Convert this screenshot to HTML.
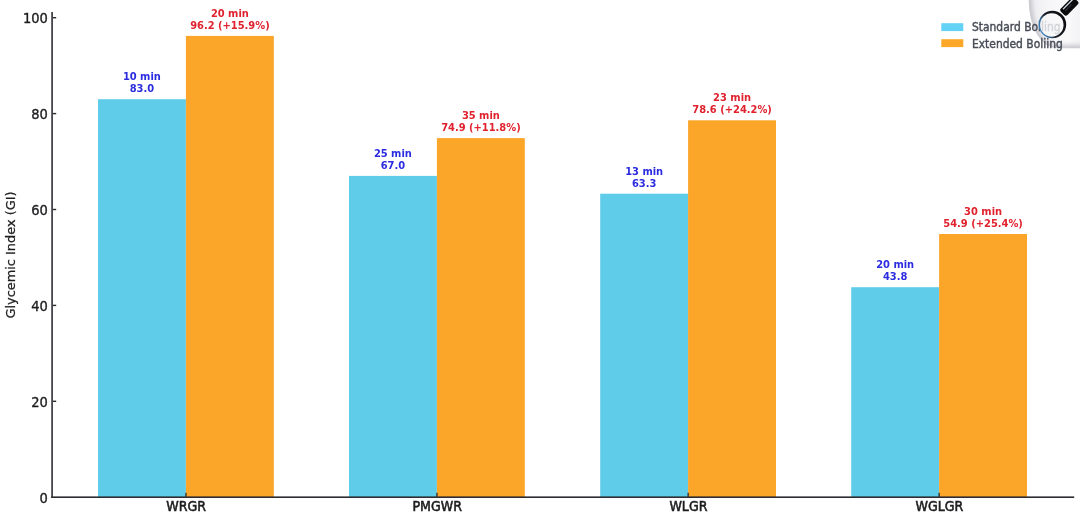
<!DOCTYPE html>
<html lang="en"><head><meta charset="utf-8"><title>Glycemic Index by boiling time</title>
<style>
html,body{margin:0;padding:0;background:#fff;}
body{width:1080px;height:517px;overflow:hidden;}
svg{display:block;will-change:transform;transform:translateZ(0);}
text{font-family:"DejaVu Sans Condensed","DejaVu Sans","Liberation Sans",sans-serif;}
.tick{font-size:14.5px;fill:#1d1d1f;stroke:#1d1d1f;stroke-width:.35px;}
.xl{font-size:14px;fill:#1d1d1f;text-anchor:middle;stroke:#1d1d1f;stroke-width:.55px;}
.vb{font-size:11px;font-weight:bold;fill:#2b2be0;text-anchor:middle;}
.vr{font-size:11px;font-weight:bold;fill:#e0222e;text-anchor:middle;}
.lg{font-size:12px;fill:#474d57;stroke:#474d57;stroke-width:.4px;}
.yl{font-family:"DejaVu Sans","Liberation Sans",sans-serif;font-size:13px;fill:#1d1d1f;text-anchor:middle;stroke:#1d1d1f;stroke-width:.25px;}
</style></head><body>
<svg width="1080" height="517" viewBox="0 0 1080 517">
<defs>
<linearGradient id="boxg" gradientUnits="userSpaceOnUse" x1="1028" y1="0" x2="1080" y2="0"><stop offset="0" stop-color="#ececef"/><stop offset=".4" stop-color="#f6f6f8"/><stop offset=".75" stop-color="#fafafb"/><stop offset="1" stop-color="#f3f3f5"/></linearGradient>
<linearGradient id="ring" x1="0" y1=".75" x2="1" y2=".25"><stop offset="0" stop-color="#4a90cc"/><stop offset=".18" stop-color="#3570a6"/><stop offset=".42" stop-color="#181d25"/><stop offset="1" stop-color="#0b0b0d"/></linearGradient>
</defs>
<rect width="1080" height="517" fill="#ffffff"/>
<g>

<rect x="98.0" y="99.2" width="87.9" height="398.0" fill="#5fcde9"/>
<rect x="185.9" y="35.9" width="87.9" height="461.3" fill="#fba529"/>
<rect x="349.0" y="175.9" width="87.9" height="321.3" fill="#5fcde9"/>
<rect x="436.9" y="138.1" width="87.9" height="359.1" fill="#fba529"/>
<rect x="600.2" y="193.7" width="87.9" height="303.5" fill="#5fcde9"/>
<rect x="688.1" y="120.3" width="87.9" height="376.9" fill="#fba529"/>
<rect x="851.2" y="287.2" width="87.9" height="210.0" fill="#5fcde9"/>
<rect x="939.1" y="234.0" width="87.9" height="263.2" fill="#fba529"/>
<rect x="51.2" y="12" width="1.8" height="486" fill="#45454b"/>
<rect x="51.2" y="496.4" width="1023" height="1.6" fill="#2c2c31"/>
<text class="tick" x="47.8" y="502.5" text-anchor="end">0</text>
<rect x="53" y="400.6" width="3.2" height="1.4" fill="#2a2a2e"/>
<text class="tick" x="47.8" y="406.6" text-anchor="end">20</text>
<rect x="53" y="304.7" width="3.2" height="1.4" fill="#2a2a2e"/>
<text class="tick" x="47.8" y="310.7" text-anchor="end">40</text>
<rect x="53" y="208.8" width="3.2" height="1.4" fill="#2a2a2e"/>
<text class="tick" x="47.8" y="214.8" text-anchor="end">60</text>
<rect x="53" y="112.9" width="3.2" height="1.4" fill="#2a2a2e"/>
<text class="tick" x="47.8" y="118.9" text-anchor="end">80</text>
<rect x="53" y="17.0" width="3.2" height="1.4" fill="#2a2a2e"/>
<text class="tick" x="47.8" y="23.0" text-anchor="end">100</text>
<rect x="185.3" y="492.8" width="1.3" height="4" fill="#2a2a2e"/>
<text class="xl" x="186.2" y="511">WRGR</text>
<rect x="436.3" y="492.8" width="1.3" height="4" fill="#2a2a2e"/>
<text class="xl" x="437.2" y="511">PMGWR</text>
<rect x="687.5" y="492.8" width="1.3" height="4" fill="#2a2a2e"/>
<text class="xl" x="688.4" y="511">WLGR</text>
<rect x="938.5" y="492.8" width="1.3" height="4" fill="#2a2a2e"/>
<text class="xl" x="939.4" y="511">WGLGR</text>
<text class="vb" x="141.9" y="80.2">10 min</text>
<text class="vb" x="141.9" y="92.2">83.0</text>
<text class="vr" x="229.9" y="16.7">20 min</text>
<text class="vr" x="229.9" y="28.7">96.2 (+15.9%)</text>
<text class="vb" x="392.9" y="156.9">25 min</text>
<text class="vb" x="392.9" y="168.9">67.0</text>
<text class="vr" x="480.9" y="118.9">35 min</text>
<text class="vr" x="480.9" y="130.9">74.9 (+11.8%)</text>
<text class="vb" x="644.2" y="174.7">13 min</text>
<text class="vb" x="644.2" y="186.7">63.3</text>
<text class="vr" x="732.1" y="101.1">23 min</text>
<text class="vr" x="732.1" y="113.1">78.6 (+24.2%)</text>
<text class="vb" x="895.2" y="268.2">20 min</text>
<text class="vb" x="895.2" y="280.2">43.8</text>
<text class="vr" x="983.1" y="214.8">30 min</text>
<text class="vr" x="983.1" y="226.8">54.9 (+25.4%)</text>
<text class="yl" transform="translate(15.3 255) rotate(-90)" textLength="127" lengthAdjust="spacingAndGlyphs">Glycemic Index (GI)</text>
<clipPath id="boxclip"><path d="M1028.7 0 A28.3 48.3 0 0 0 1057 48.3 H1080 V0 Z"/></clipPath>
<filter id="bl" x="1000" y="-20" width="100" height="100" filterUnits="userSpaceOnUse"><feGaussianBlur stdDeviation="2.6"/></filter>
<g clip-path="url(#boxclip)"><rect x="1020" y="-5" width="70" height="60" fill="url(#boxg)"/>
<path d="M1028.7 -4 V0 A28.3 48.3 0 0 0 1057 48.3 H1084" fill="none" stroke="#b9b9c1" stroke-width="5" filter="url(#bl)"/></g>
<rect x="941.3" y="23.2" width="22" height="7.9" fill="#63d2f5"/>
<rect x="941.3" y="39.2" width="22" height="7.9" fill="#fda829"/>
<text class="lg" x="972" y="31.4" textLength="88.6" lengthAdjust="spacingAndGlyphs">Standard Boiling</text>
<text class="lg" x="972" y="47.5" textLength="90.8" lengthAdjust="spacingAndGlyphs">Extended Boliing</text>
<circle cx="1052" cy="24.8" r="12.2" fill="#f6f6f8" fill-opacity=".8"/>
<path fill-rule="evenodd" fill="url(#ring)" d="M1038.60 24.50 a13.80 13.80 0 1 0 27.60 0 a13.80 13.80 0 1 0 -27.60 0 Z M1040.05 24.90 a11.75 11.75 0 1 0 23.50 0 a11.75 11.75 0 1 0 -23.50 0 Z"/>
<g transform="translate(1063.7 12.2) rotate(-45.5)"><rect x="-1.6" y="-4.6" width="19.2" height="9.2" rx="2.3" fill="#0b0b0d"/><rect x="1.6" y="-3.2" width="15" height="1.3" rx=".6" fill="#e3ebf3" fill-opacity=".95"/><rect x="2" y="-0.4" width="9" height="1.1" rx=".5" fill="#5a626c" fill-opacity=".5"/></g>
</g>
</svg>
</body></html>
